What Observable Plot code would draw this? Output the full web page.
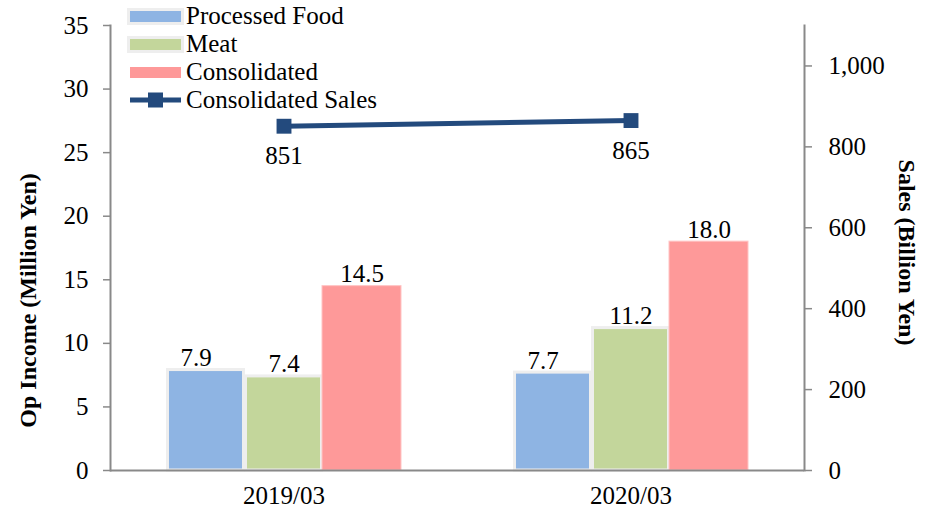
<!DOCTYPE html>
<html>
<head>
<meta charset="utf-8">
<script src="https://cdn.jsdelivr.net/npm/d3@7"></script>
<script src="https://cdn.jsdelivr.net/npm/@observablehq/plot@0.6"></script>
<style>
  body { margin: 0; background: #fff; }
  #wrap { position: relative; width: 926px; height: 515px; font-family: "Liberation Serif", "Times New Roman", serif; color: #000; overflow: hidden; }
  #chart { position: absolute; left: 0; top: 0; }
  #legend { position: absolute; left: 130px; top: 2px; }
  .row { display: flex; align-items: center; height: 28px; font-size: 25px; line-height: 28px; white-space: nowrap; }
  .sw { width: 51px; height: 16px; margin-right: 5px; display: flex; align-items: center; justify-content: center; }
  .box { width: 51px; height: 11px; box-sizing: border-box; }
  .title { position: absolute; font-size: 24px; font-weight: bold; white-space: nowrap; transform-origin: center center; }
  svg text { font-family: "Liberation Serif", "Times New Roman", serif; }
</style>
</head>
<body>
<div id="wrap">
  <div id="chart"></div>
  <div id="legend"></div>
  <div class="title" id="ltitle">Op Income (Million Yen)</div>
  <div class="title" id="rtitle">Sales (Billion Yen)</div>
</div>
<script>
// ---- data ----
const periods = ["2019/03", "2020/03"];
const seriesNames = ["Processed Food", "Meat", "Consolidated"];
const processedFood = [7.9, 7.7];
const meat = [7.4, 11.2];
const consolidated = [14.5, 18.0];
const salesName = "Consolidated Sales";
const sales = [851, 865];
const leftTicks = [0, 5, 10, 15, 20, 25, 30, 35];
const rightTicks = [0, 200, 400, 600, 800, 1000];
const leftMax = 35;
const rightMax = 1100;

// ---- styles ----
const colors = ["#8eb4e3", "#c3d69b", "#fe9999"];
const borders = ["#eeeeee", "#eeeeee", "#ffc4c4"];
const borderW = [3, 3, 1];
const navy = "#234a7d";
const axisGrey = "#898989";
const FS = 25;

const seriesValues = [processedFood, meat, consolidated];
const toLeft = v => v * leftMax / rightMax;
const salesRows = periods.map((p, i) => ({period: p, sales: sales[i]}));

const barMarks = [];
seriesValues.forEach((vals, s) => {
  const rows = periods.map((p, i) => ({period: p, value: vals[i]}));
  const off = (s - 1) * 78;
  const inset = s === 2 ? 134 : 135.5;
  barMarks.push(Plot.barY(rows, {
    x: "period", y: "value", fill: colors[s], stroke: borders[s], strokeWidth: borderW[s],
    insetLeft: inset, insetRight: inset, dx: off
  }));
  barMarks.push(Plot.text(rows, {
    x: "period", y: "value", text: d => d3.format(".1f")(d.value),
    dx: s === 0 ? off - 10 : off, dy: -4, lineAnchor: "bottom", fontSize: FS, fill: "black"
  }));
});

const chart = Plot.plot({
  width: 926,
  height: 515,
  marginLeft: 110,
  marginRight: 122,
  marginTop: 25,
  marginBottom: 45,
  style: {fontFamily: '"Liberation Serif", "Times New Roman", serif', fontSize: FS + "px", color: "black", background: "white"},
  x: {type: "band", domain: periods, padding: 0, axis: null},
  y: {domain: [0, leftMax], axis: null},
  marks: [
    ...barMarks,
    Plot.frame({anchor: "left", stroke: axisGrey, strokeWidth: 2}),
    Plot.frame({anchor: "right", stroke: axisGrey, strokeWidth: 2}),
    Plot.ruleY([0], {stroke: axisGrey, strokeWidth: 2}),
    Plot.axisY(leftTicks, {anchor: "left", tickSize: 7, tickPadding: 15, stroke: axisGrey, fill: "black", strokeWidth: 1.5, fontSize: FS, label: null}),
    Plot.axisY(rightTicks.map(toLeft), {anchor: "right", tickSize: 7, tickPadding: 17, stroke: axisGrey, fill: "black", strokeWidth: 1.5, fontSize: FS, label: null,
      tickFormat: d => d3.format(",")(Math.round(d * rightMax / leftMax))}),
    Plot.axisX(periods, {anchor: "bottom", tickSize: 0, tickPadding: 16, fontSize: FS, fill: "black", label: null}),
    Plot.line(salesRows, {x: "period", y: d => toLeft(d.sales), stroke: navy, strokeWidth: 5}),
    Plot.dot(salesRows, {x: "period", y: d => toLeft(d.sales), symbol: "square", r: 8.4, fill: navy, stroke: "none"}),
    Plot.text(salesRows, {x: "period", y: d => toLeft(d.sales), text: d => String(d.sales), dy: 30, lineAnchor: "middle", fontSize: FS, fill: "black"})
  ]
});
document.getElementById("chart").appendChild(chart);

// ---- legend ----
const legend = document.getElementById("legend");
seriesNames.forEach((name, s) => {
  const row = document.createElement("div");
  row.className = "row";
  const sw = document.createElement("div");
  sw.className = "sw";
  const box = document.createElement("div");
  box.className = "box";
  box.style.background = colors[s];
  if (s < 2) box.style.outline = "3px solid #eeeeee";
  sw.appendChild(box);
  row.appendChild(sw);
  row.appendChild(document.createTextNode(name));
  legend.appendChild(row);
});
{
  const row = document.createElement("div");
  row.className = "row";
  const sw = document.createElement("div");
  sw.className = "sw";
  sw.innerHTML = `<svg width="51" height="16"><line x1="0" x2="51" y1="8" y2="8" stroke="${navy}" stroke-width="5"/><rect x="18" y="0.5" width="15" height="15" fill="${navy}"/></svg>`;
  row.appendChild(sw);
  row.appendChild(document.createTextNode(salesName));
  legend.appendChild(row);
}

// ---- axis titles ----
const lt = document.getElementById("ltitle");
lt.style.left = (28 - lt.offsetWidth / 2) + "px";
lt.style.top = (300 - lt.offsetHeight / 2) + "px";
lt.style.transform = "rotate(-90deg)";
const rt = document.getElementById("rtitle");
rt.style.left = (907 - rt.offsetWidth / 2) + "px";
rt.style.top = (252 - rt.offsetHeight / 2) + "px";
rt.style.transform = "rotate(90deg)";
</script>
</body>
</html>
